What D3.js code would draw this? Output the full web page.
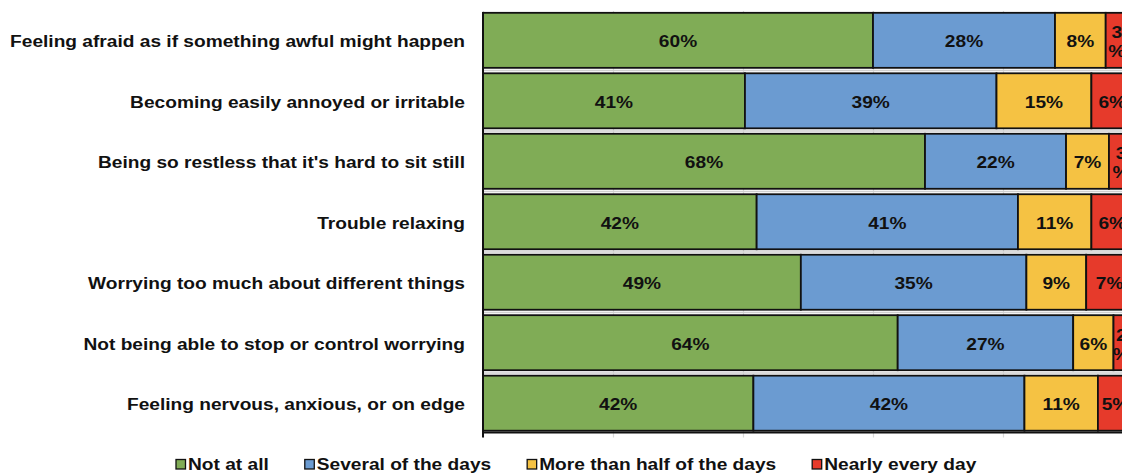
<!DOCTYPE html>
<html>
<head>
<meta charset="utf-8">
<script src="https://cdn.jsdelivr.net/npm/d3@7"></script>
<style>
  body { margin: 0; background: #fff; }
  svg { display: block; font-family: "Liberation Sans", Arial, sans-serif; font-weight: bold; }
</style>
</head>
<body>
<div id="chart"></div>
<script>
// GAD-7 items, top to bottom
var categories = [
  "Feeling afraid as if something awful might happen",
  "Becoming easily annoyed or irritable",
  "Being so restless that it's hard to sit still",
  "Trouble relaxing",
  "Worrying too much about different things",
  "Not being able to stop or control worrying",
  "Feeling nervous, anxious, or on edge"
];

// segment sizes (% of respondents)
var notAtAll     = [60.0, 40.3, 68.0, 42.1, 48.9, 63.8, 41.6];
var severalDays  = [28.0, 38.7, 21.7, 40.2, 34.7, 27.0, 41.7];
var moreThanHalf = [7.8, 14.6, 6.6, 11.3, 9.2, 6.2, 11.3];
var nearlyEvery  = [3.4, 6.4, 3.7, 6.4, 7.2, 2.4, 5.4];

// the percentages printed on the bars
var notAtAllLabels     = ["60%", "41%", "68%", "42%", "49%", "64%", "42%"];
var severalDaysLabels  = ["28%", "39%", "22%", "41%", "35%", "27%", "42%"];
var moreThanHalfLabels = ["8%", "15%", "7%", "11%", "9%", "6%", "11%"];
var nearlyEveryLabels  = ["3%", "6%", "3%", "6%", "7%", "2%", "5%"];

var seriesNames = ["Not at all", "Several of the days", "More than half of the days", "Nearly every day"];
var seriesKeys = ["a", "b", "c", "d"];
var colors = ["#80ac56", "#6b9bd1", "#f5c243", "#e63a2b"];
var xTicks = [0, 20, 40, 60, 80, 100];

var svgWidth = 1122;
var svgHeight = 473;

var plotLeft = 483;
var plotRight = 1133;   // 100% falls just past the right edge
var plotTop = 11;
var plotBottom = 432.5;

var fontSize = 16.5;
var stretch = 1.16;     // the original text is drawn a little wide

var svg = d3.select("#chart")
  .append("svg")
  .attr("width", svgWidth)
  .attr("height", svgHeight);

var rows = categories.map(function(c, i) {
  return {
    cat: c,
    a: notAtAll[i], b: severalDays[i], c: moreThanHalf[i], d: nearlyEvery[i],
    labels: { a: notAtAllLabels[i], b: severalDaysLabels[i], c: moreThanHalfLabels[i], d: nearlyEveryLabels[i] }
  };
});

var x = d3.scaleLinear()
  .domain([0, 100])
  .range([plotLeft, plotRight]);

var y = d3.scaleBand()
  .domain(categories)
  .range([plotTop, plotBottom])
  .paddingInner(0.09)
  .paddingOuter(0.03);

var color = d3.scaleOrdinal().domain(seriesKeys).range(colors);

function addText(g, tx, ty, str, anchor) {
  return g.append("text")
    .attr("transform", `translate(${tx}, ${ty}) scale(${stretch}, 1)`)
    .attr("text-anchor", anchor || "start")
    .attr("font-size", fontSize)
    .attr("fill", "#111")
    .text(str);
}

// vertical gridlines + small ticks below the axis
var xAxis = svg.append("g")
  .attr("transform", `translate(0, ${plotBottom})`)
  .call(d3.axisBottom(x).tickValues(xTicks).tickSize(-(plotBottom - plotTop)).tickFormat(""));
xAxis.select(".domain").remove();
xAxis.selectAll(".tick line")
  .attr("stroke", "#d9d9d9")
  .attr("stroke-width", 1.2)
  .attr("y2", -(plotBottom - plotTop))
  .attr("y1", 5);

// faint lines between bars
var step = y.step();
svg.append("g")
  .selectAll("line")
  .data(categories.slice(1))
  .enter()
  .append("line")
  .attr("x1", plotLeft)
  .attr("x2", svgWidth)
  .attr("y1", d => y(d) - step * y.paddingInner() / 2)
  .attr("y2", d => y(d) - step * y.paddingInner() / 2)
  .attr("stroke", "#cfcfcf")
  .attr("stroke-width", 1.5);

var stacked = d3.stack().keys(seriesKeys)(rows);

var layers = svg.append("g")
  .selectAll("g")
  .data(stacked)
  .enter()
  .append("g")
  .attr("fill", d => color(d.key));

layers.selectAll("rect")
  .data(d => d)
  .enter()
  .append("rect")
  .attr("x", d => x(d[0]))
  .attr("y", d => y(d.data.cat))
  .attr("width", d => x(d[1]) - x(d[0]))
  .attr("height", y.bandwidth())
  .attr("stroke", "#111")
  .attr("stroke-width", 1.8);

// value labels, split onto two lines when the segment is narrow
var labelGroup = svg.append("g");
stacked.forEach(function(layer) {
  layer.forEach(function(d) {
    var lab = d.data.labels[layer.key];
    var cx = (x(d[0]) + x(d[1])) / 2;
    var cy = y(d.data.cat) + y.bandwidth() / 2;
    var w = x(d[1]) - x(d[0]);
    if (w < 28) {
      addText(labelGroup, cx, cy - 2, lab.replace("%", ""), "middle");
      addText(labelGroup, cx, cy + 17, "%", "middle");
    } else {
      addText(labelGroup, cx, cy + 7, lab, "middle");
    }
  });
});

// axis lines
svg.append("line")
  .attr("x1", plotLeft).attr("x2", plotLeft)
  .attr("y1", plotTop + 1).attr("y2", plotBottom + 5)
  .attr("stroke", "#111").attr("stroke-width", 2);
svg.append("line")
  .attr("x1", plotLeft).attr("x2", svgWidth)
  .attr("y1", plotBottom).attr("y2", plotBottom)
  .attr("stroke", "#111").attr("stroke-width", 2);

// category labels
var catGroup = svg.append("g");
categories.forEach(function(c) {
  addText(catGroup, 465, y(c) + y.bandwidth() / 2 + 7, c, "end");
});

// legend
var legend = svg.append("g");
var lx = 176;
seriesNames.forEach(function(name, i) {
  legend.append("rect")
    .attr("x", lx)
    .attr("y", 459.5)
    .attr("width", 9.5)
    .attr("height", 9.5)
    .attr("fill", colors[i])
    .attr("stroke", "#111")
    .attr("stroke-width", 1.3);
  var t = addText(legend, lx + 12, 469.5, name);
  lx += 12 + t.node().getComputedTextLength() * stretch + 36;
});
</script>
</body>
</html>
